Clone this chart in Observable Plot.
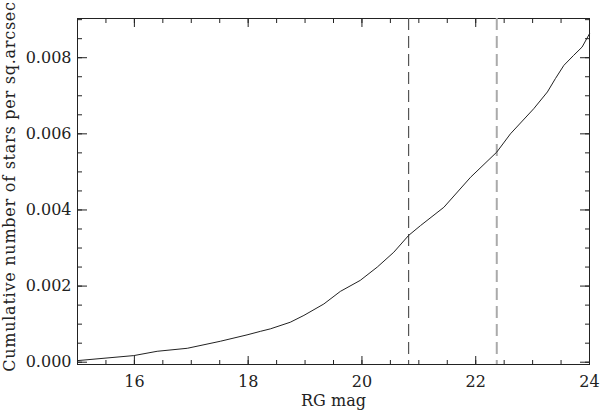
<!DOCTYPE html>
<html>
<head>
<meta charset="utf-8">
<script src="https://cdn.jsdelivr.net/npm/d3@7"></script>
<script src="https://cdn.jsdelivr.net/npm/@observablehq/plot@0.6"></script>
<style>
  html, body { margin: 0; padding: 0; background: #fff; }
</style>
</head>
<body>
<div id="chart"></div>
<script>
// RG magnitude (x) and cumulative number of stars per sq.arcsec (y)
const magnitudes = [15.00, 15.99, 16.40, 16.93, 17.51, 17.98, 18.22, 18.39, 18.74, 18.98, 19.33, 19.62, 19.97, 20.27, 20.56, 20.82, 21.03, 21.44, 21.91, 22.37, 22.61, 23.02, 23.26, 23.40, 23.55, 23.72, 23.87, 24.00];
const cumulative = [0.000042, 0.000174, 0.000287, 0.000366, 0.000550, 0.000718, 0.000813, 0.000876, 0.00105, 0.00123, 0.00153, 0.00186, 0.00215, 0.00250, 0.00289, 0.00333, 0.00359, 0.00407, 0.00486, 0.00552, 0.00600, 0.00666, 0.00710, 0.00745, 0.00780, 0.00806, 0.00828, 0.00863];
// dashed vertical limits
const limitDark = [20.82];
const limitLight = [22.37];
// tick labels
const xTicks = [16, 18, 20, 22, 24];
const xMinor = [15, 15.5, 16, 16.5, 17, 17.5, 18, 18.5, 19, 19.5, 20, 20.5, 21, 21.5, 22, 22.5, 23, 23.5, 24];
const yTicks = [0, 0.002, 0.004, 0.006, 0.008];
const yMinor = [0, 0.0005, 0.001, 0.0015, 0.002, 0.0025, 0.003, 0.0035, 0.004, 0.0045, 0.005, 0.0055, 0.006, 0.0065, 0.007, 0.0075, 0.008, 0.0085, 0.009];
const xLabel = "RG mag";
const yLabel = "Cumulative number of stars per sq.arcsec";

const data = magnitudes.map((m, i) => ({mag: m, n: cumulative[i]}));
const ink = "#222";
const blank = () => "";

const chart = Plot.plot({
  width: 600,
  height: 415,
  marginLeft: 77,
  marginRight: 11,
  marginTop: 18,
  marginBottom: 51,
  style: {fontFamily: "'DejaVu Serif', serif", fontSize: "16px", color: ink, background: "#fff"},
  x: {domain: [15, 24]},
  y: {domain: [-0.00006, 0.00903]},
  marks: [
    Plot.frame({stroke: ink}),
    // inward minor/major ticks on all four sides
    Plot.axisX(xMinor, {anchor: "bottom", tickSize: -4, tickFormat: blank, label: null, stroke: ink}),
    Plot.axisX(xTicks, {anchor: "bottom", tickSize: -8, tickFormat: blank, label: null, stroke: ink}),
    Plot.axisX(xMinor, {anchor: "top", tickSize: -4, tickFormat: blank, label: null, stroke: ink}),
    Plot.axisX(xTicks, {anchor: "top", tickSize: -8, tickFormat: blank, label: null, stroke: ink}),
    Plot.axisY(yMinor, {anchor: "left", tickSize: -5, tickFormat: blank, label: null, stroke: ink}),
    Plot.axisY(yTicks, {anchor: "left", tickSize: -10, tickFormat: blank, label: null, stroke: ink}),
    Plot.axisY(yMinor, {anchor: "right", tickSize: -5, tickFormat: blank, label: null, stroke: ink}),
    Plot.axisY(yTicks, {anchor: "right", tickSize: -10, tickFormat: blank, label: null, stroke: ink}),
    // tick labels and axis titles
    Plot.axisX(xTicks, {anchor: "bottom", tickSize: 0, tickPadding: 11, tickFormat: d => String(d), label: xLabel, labelAnchor: "center", labelOffset: 41, labelArrow: "none", fill: ink}),
    Plot.axisY(yTicks, {anchor: "left", tickSize: 0, tickPadding: 6, tickFormat: d3.format(".3f"), label: null, fill: ink}),
    Plot.text([yLabel], {frameAnchor: "left", textAnchor: "middle", text: d => d, rotate: -90, dx: -68, dy: -5, fill: ink, fontSize: 16}),
    // dashed limits
    Plot.ruleX(limitDark, {stroke: "#555", strokeWidth: 1.2, strokeDasharray: "12,6"}),
    Plot.ruleX(limitLight, {stroke: "#aaa", strokeWidth: 2, strokeDasharray: "12,6"}),
    // curve
    Plot.line(data, {x: "mag", y: "n", stroke: ink, strokeWidth: 1})
  ]
});
d3.select(chart).selectAll("text").filter(function () { return this.textContent === yLabel; }).attr("letter-spacing", "0.75px");
document.getElementById("chart").appendChild(chart);
</script>
</body>
</html>
